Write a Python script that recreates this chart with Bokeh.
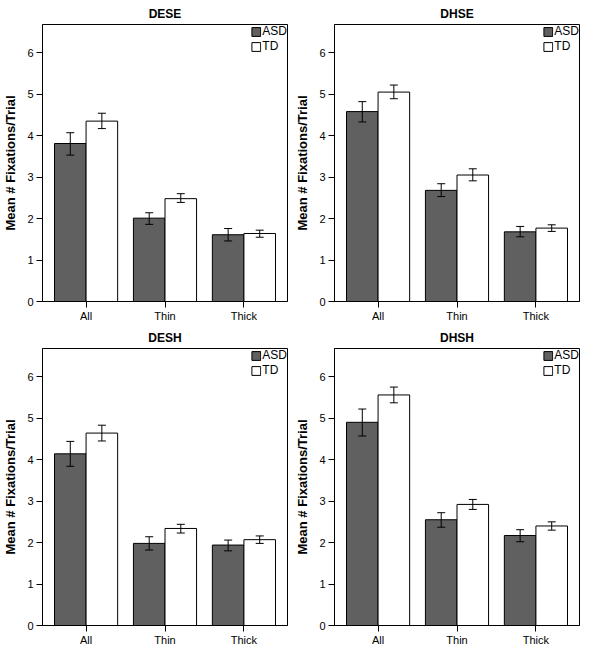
from bokeh.plotting import figure
from bokeh.models import ColumnDataSource, Whisker, TeeHead, FactorRange, Range1d, FixedTicker
from bokeh.transform import dodge
from bokeh.layouts import gridplot
from bokeh.embed import file_html
from bokeh.resources import INLINE

categories = ["All", "Thin", "Thick"]
groups = ["ASD", "TD"]
y_ticks = [0, 1, 2, 3, 4, 5, 6]

titles = ["DESE", "DHSE", "DESH", "DHSH"]

dese_asd = [3.81, 2.01, 1.61]
dese_asd_lo = [3.53, 1.86, 1.46]
dese_asd_hi = [4.07, 2.14, 1.76]
dese_td = [4.35, 2.48, 1.64]
dese_td_lo = [4.17, 2.39, 1.55]
dese_td_hi = [4.54, 2.60, 1.72]

dhse_asd = [4.58, 2.68, 1.68]
dhse_asd_lo = [4.33, 2.53, 1.56]
dhse_asd_hi = [4.82, 2.84, 1.81]
dhse_td = [5.05, 3.05, 1.77]
dhse_td_lo = [4.89, 2.91, 1.69]
dhse_td_hi = [5.22, 3.20, 1.85]

desh_asd = [4.14, 1.98, 1.94]
desh_asd_lo = [3.84, 1.82, 1.80]
desh_asd_hi = [4.44, 2.14, 2.06]
desh_td = [4.64, 2.34, 2.07]
desh_td_lo = [4.45, 2.23, 1.98]
desh_td_hi = [4.83, 2.44, 2.16]

dhsh_asd = [4.90, 2.55, 2.17]
dhsh_asd_lo = [4.57, 2.37, 2.02]
dhsh_asd_hi = [5.22, 2.72, 2.31]
dhsh_td = [5.56, 2.92, 2.40]
dhsh_td_lo = [5.37, 2.80, 2.30]
dhsh_td_hi = [5.75, 3.04, 2.50]

panels = [
    (dese_asd, dese_asd_lo, dese_asd_hi, dese_td, dese_td_lo, dese_td_hi),
    (dhse_asd, dhse_asd_lo, dhse_asd_hi, dhse_td, dhse_td_lo, dhse_td_hi),
    (desh_asd, desh_asd_lo, desh_asd_hi, desh_td, desh_td_lo, desh_td_hi),
    (dhsh_asd, dhsh_asd_lo, dhsh_asd_hi, dhsh_td, dhsh_td_lo, dhsh_td_hi),
]

FONT = "Liberation Sans"
ASD_COLOR = "#606060"


def make_panel(title, data):
    asd, asd_lo, asd_hi, td, td_lo, td_hi = data
    src = ColumnDataSource(dict(cat=categories, asd=asd, asd_lo=asd_lo, asd_hi=asd_hi,
                                td=td, td_lo=td_lo, td_hi=td_hi))
    p = figure(width=292, height=324, output_backend="svg", toolbar_location=None,
               x_range=FactorRange(factors=categories, range_padding=0.0347),
               y_range=Range1d(0, 6.68), title=title,
               min_border_left=0, min_border_right=5, min_border_top=0, min_border_bottom=0)
    p.vbar(x=dodge("cat", -0.2, range=p.x_range), top="asd", width=0.4, source=src,
           fill_color=ASD_COLOR, line_color="black", line_width=1, legend_label="ASD")
    p.vbar(x=dodge("cat", 0.2, range=p.x_range), top="td", width=0.4, source=src,
           fill_color="white", line_color="black", line_width=1, legend_label="TD")
    for off, lo, hi in ((-0.2, "asd_lo", "asd_hi"), (0.2, "td_lo", "td_hi")):
        w = Whisker(base=dodge("cat", off, range=p.x_range), lower=lo, upper=hi, source=src,
                    line_color="black", line_width=1, level="overlay",
                    upper_head=TeeHead(size=8, line_color="black", line_width=1),
                    lower_head=TeeHead(size=8, line_color="black", line_width=1))
        p.add_layout(w)

    p.title.align = "center"
    p.title.text_font = FONT
    p.title.text_font_size = "12px"
    p.title.text_font_style = "bold"
    p.title.text_color = "black"
    p.title.standoff = 8

    p.xgrid.grid_line_color = None
    p.ygrid.grid_line_color = None
    p.outline_line_color = "black"
    p.outline_line_alpha = 1
    p.background_fill_color = "white"
    p.border_fill_color = "white"

    for ax in (p.xaxis[0], p.yaxis[0]):
        ax.axis_line_color = "black"
        ax.major_tick_line_color = "black"
        ax.major_tick_out = 6
        ax.major_tick_in = 0
        ax.minor_tick_line_color = None
        ax.major_label_text_font = FONT
        ax.major_label_text_font_size = "11px"
        ax.major_label_text_color = "black"
    p.xaxis.axis_label = None
    p.xaxis.axis_label_standoff = 0
    p.yaxis.ticker = FixedTicker(ticks=y_ticks)
    p.yaxis.major_label_standoff = 3
    p.xaxis.major_label_standoff = 2
    p.yaxis.axis_label = "Mean # Fixations/Trial"
    p.yaxis.axis_label_text_font = FONT
    p.yaxis.axis_label_text_font_size = "13px"
    p.yaxis.axis_label_text_font_style = "bold"
    p.yaxis.axis_label_text_color = "black"
    p.yaxis.axis_label_standoff = 6

    lg = p.legend[0]
    lg.location = "top_right"
    lg.border_line_color = None
    lg.background_fill_alpha = 0
    lg.label_text_font = FONT
    lg.label_text_font_size = "12px"
    lg.label_text_color = "black"
    lg.label_height = 12
    lg.glyph_height = 11
    lg.glyph_width = 11
    lg.spacing = 1
    lg.padding = 3
    lg.margin = 0
    lg.label_standoff = 1
    return p


figs = [make_panel(t, d) for t, d in zip(titles, panels)]
grid = gridplot([[figs[0], figs[1]], [figs[2], figs[3]]], toolbar_location=None)

open("out.html", "w").write(file_html(grid, INLINE))
